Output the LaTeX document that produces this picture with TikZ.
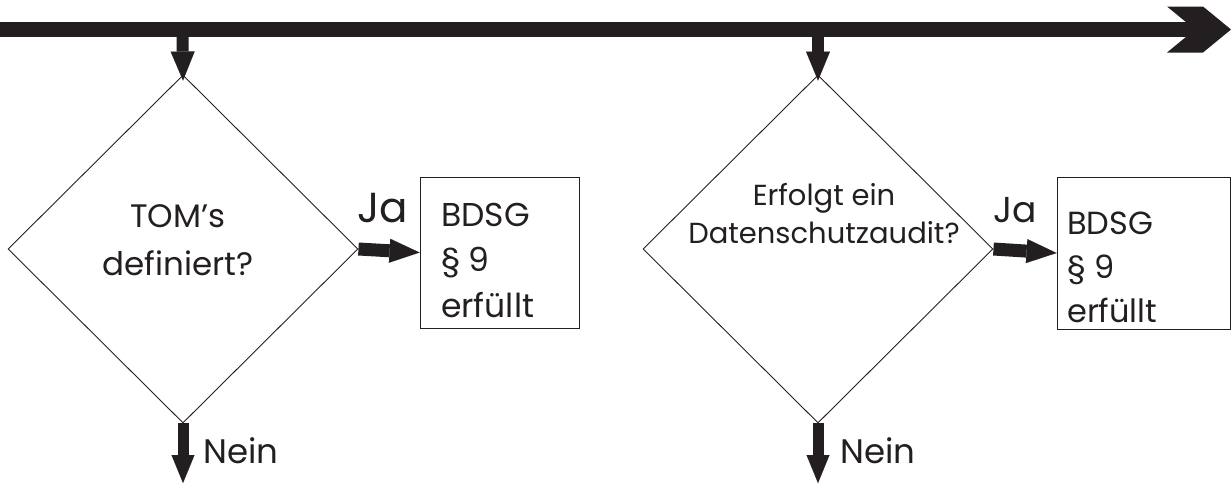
\documentclass[tikz,border=0pt]{standalone}
\usepackage{fontspec}
\setmainfont{Poppins}
\usetikzlibrary{shapes.geometric,arrows.meta}
\definecolor{ink}{HTML}{231F20}
\tikzset{
  decision/.style={draw=ink, line width=0.9pt, diamond, inner sep=0pt,
    minimum width=350pt, minimum height=348pt},
  resultbox/.style={draw=ink, line width=0.9pt, rectangle, inner sep=0pt},
  label/.style={text=ink, inner sep=0pt},
  flowarrow/.style={draw=ink, line width=13pt,
    -{Triangle[length=30pt,width=24pt,line width=0.01pt]}},
  downarrow/.style={draw=ink, line width=12pt,
    -{Triangle[length=29pt,width=24pt,line width=0.01pt]}},
  exitarrow/.style={draw=ink, line width=11pt,
    -{Triangle[length=28pt,width=23pt,line width=0.01pt]}},
}
\begin{document}
\begin{tikzpicture}[x=1pt,y=-1pt]
\useasboundingbox (0,0) rectangle (1231,483);

% time line with chevron head
\coordinate (tlstart) at (0,29.5);
\coordinate (tlend) at (1231,29.5);
\draw[ink, line width=15pt] (tlstart) -- ([shift={(-35,0)}]tlend);
\fill[ink] ([shift={(-64,-23)}]tlend) -- ++(36,0) -- (tlend) -- ++(-28,23)
  -- ++(-36,0) -- ++(28,-23) -- cycle;

% decisions (text anchored on the baseline of its last line)
\node[decision] (d1) at (183,249) {};
\node[decision] (d2) at (818,249) {};

\node[label, font=\fontsize{32.5}{48}\selectfont, align=center, anchor=base] (q1) at (178,275) {TOM’s\\definiert?};
\node[label, font=\fontsize{29}{38}\selectfont, align=center, anchor=base] (q2) at (824,243) {Erfolgt ein\\Datenschutzaudit?};

% results
\node[resultbox, minimum width=159pt, minimum height=151pt] (b1) at (499.5,252.5) {};
\node[resultbox, minimum width=173pt, minimum height=152pt] (b2) at (1143.5,253) {};

\node[label, font=\fontsize{33}{45.5}\selectfont, align=left, anchor=base west] (r1) at (441,317) {BDSG\\§ 9\\erfüllt};
\node[label, font=\fontsize{32}{44}\selectfont, align=left, anchor=base west] (r2) at (1067,322) {BDSG\\§ 9\\erfüllt};

% entry arrows from the time line
\coordinate (in1) at (182.5,36);
\coordinate (in2) at (818,36);
\draw[downarrow] (in1) -- ([yshift=-6pt]d1.north);
\draw[downarrow] (in2) -- ([yshift=-6pt]d2.north);

% yes branches
\draw[flowarrow] (d1.east) -- (b1.west);
\draw[flowarrow] (d2.east) -- (b2.west);
\node[label, font=\fontsize{42}{42}\selectfont, anchor=base west] (ja1) at (357,222) {Ja};
\node[label, font=\fontsize{36}{36}\selectfont, anchor=base west] (ja2) at (993,222) {Ja};

% no branches
\coordinate (out1) at (183,483);
\coordinate (out2) at (818,483);
\draw[exitarrow] (d1.south) -- (out1);
\draw[exitarrow] (d2.south) -- (out2);
\node[label, font=\fontsize{34}{34}\selectfont, anchor=base west] (n1) at (203,463) {Nein};
\node[label, font=\fontsize{34}{34}\selectfont, anchor=base west] (n2) at (840,463) {Nein};
\end{tikzpicture}
\end{document}
